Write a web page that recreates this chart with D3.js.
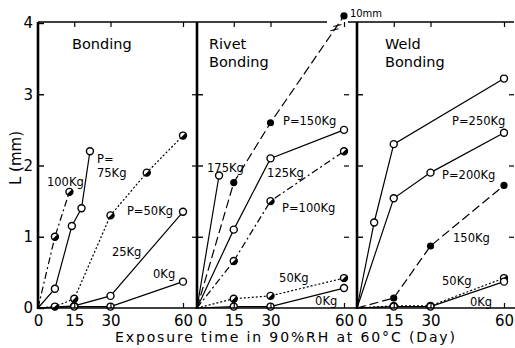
<!DOCTYPE html>
<html>
<head>
<meta charset="utf-8">
<script src="https://cdn.jsdelivr.net/npm/d3@7"></script>
<style>
body{margin:0;background:#fff;}
text{font-family:"DejaVu Sans",sans-serif;fill:#000;}
</style>
</head>
<body>
<script>
// days of exposure on x, crack length L (mm) on y
let xTicks = [0,15,30,60];
let yTicks = [0,1,2,3,4];

// Bonding
let b100 = [[0,0],[7,1.0],[13,1.63]];
let b75 = [[0,0],[7,0.27],[14,1.15],[18,1.4],[21.5,2.2]];
let b50 = [[0,0],[7,0.02],[15,0.13],[30,1.3],[45,1.9],[60,2.42]];
let b25 = [[0,0],[15,0.03],[30,0.17],[60,1.35]];
let b0 = [[0,0],[15,0.02],[30,0.02],[60,0.37]];
// Rivet bonding
let r175 = [[0,0],[9,1.86]];
let r150 = [[0,0],[15,1.76],[30,2.6],[60,4.1]];
let r125 = [[0,0],[15,1.1],[30,2.1],[60,2.5]];
let r100 = [[0,0],[15,0.66],[30,1.5],[60,2.2]];
let r50 = [[0,0],[15,0.13],[30,0.17],[60,0.42]];
let r0 = [[0,0],[15,0.02],[30,0.02],[60,0.28]];
// Weld bonding
let w250 = [[0,0],[7,1.2],[15,2.3],[60,3.22]];
let w200 = [[0,0],[15,1.54],[30,1.9],[60,2.46]];
let w150 = [[0,0],[15,0.14],[30,0.87],[60,1.72]];
let w50 = [[0,0],[15,0.03],[30,0.03],[60,0.42]];
let w0 = [[0,0],[15,0.02],[30,0.02],[60,0.37]];

let solid = null, dashdot = "7,3,2,3", dotted = "2,2", dashed = "9,4";

// label anchors are in data units (day, L)
let panels = [
  {x0:38, x1:183, edge:197, title:["Bonding"], tx:72,
   series:[
     {data:b100, dash:dashdot, mark:"half", label:["100Kg"], at:[3.7,1.71]},
     {data:b75, dash:solid, mark:"open", label:["P=","75Kg"], at:[24.4,2.04]},
     {data:b50, dash:dotted, mark:"half", label:["P=50Kg"], at:[36.8,1.31]},
     {data:b25, dash:solid, mark:"open", label:["25Kg"], at:[30.6,0.73]},
     {data:b0, dash:solid, mark:"open", label:["0Kg"], at:[47.6,0.42]}
   ]},
  {x0:197, x1:344, edge:349, title:["Rivet","Bonding"], tx:209,
   series:[
     {data:r175, dash:solid, mark:"open", label:["175Kg"], at:[4.1,1.91]},
     {data:r150, dash:dashed, mark:"fill", label:["P=150Kg"], at:[35.1,2.57]},
     {data:r125, dash:solid, mark:"open", label:["125Kg"], at:[28.6,1.84]},
     {data:r100, dash:dashdot, mark:"half", label:["P=100Kg"], at:[34.7,1.35]},
     {data:r50, dash:dotted, mark:"half", label:["50Kg"], at:[33.5,0.36]},
     {data:r0, dash:solid, mark:"open", label:["0Kg"], at:[48.2,0.04]}
   ]},
  {x0:357, x1:504, edge:514, title:["Weld","Bonding"], tx:385,
   series:[
     {data:w250, dash:solid, mark:"open", label:["P=250Kg"], at:[38.8,2.57]},
     {data:w200, dash:solid, mark:"open", label:["P=200Kg"], at:[34.7,1.81]},
     {data:w150, dash:dashed, mark:"fill", label:["150Kg"], at:[39.2,0.93]},
     {data:w50, dash:dotted, mark:"half", label:["50Kg"], at:[34.7,0.32]},
     {data:w0, dash:solid, mark:"open", label:["0Kg"], at:[46.1,0.03]}
   ]}
];

let width = 515, height = 348;
let svg = d3.select("body").append("svg").attr("width",width).attr("height",height);
let y = d3.scaleLinear().domain([0,4]).range([308,23]);
let topY = 22, bottomY = 308;

function marker(g, kind){
  if(kind=="fill"){
    g.append("circle").attr("r",3.6).attr("fill","#000");
    return;
  }
  g.append("circle").attr("r",3.5).attr("fill","#fff").attr("stroke","#000").attr("stroke-width",1.4);
  if(kind=="half"){
    g.append("path").attr("fill","#000")
      .attr("d",d3.arc()({innerRadius:0,outerRadius:3.5,startAngle:Math.PI*0.25,endAngle:Math.PI*1.25}));
  }
}

panels.forEach((p,i)=>{
  let x = d3.scaleLinear().domain([0,60]).range([p.x0,p.x1]);
  let line = d3.line().x(d=>x(d[0])).y(d=>y(d[1]));
  let g = svg.append("g");

  p.series.forEach(s=>{
    g.append("path").attr("d",line(s.data)).attr("fill","none")
      .attr("stroke","#000").attr("stroke-width",1.2)
      .attr("stroke-dasharray",s.dash);
  });
  p.series.forEach(s=>{
    s.data.slice(1).forEach(d=>{
      let m = g.append("g").attr("transform",`translate(${x(d[0])},${y(d[1])})`);
      marker(m,s.mark);
    });
    s.label.forEach((t,k)=>{
      g.append("text").attr("x",x(s.at[0])).attr("y",y(s.at[1])+k*14)
        .style("font-size","11.5px").text(t);
    });
  });

  // titles
  p.title.forEach((t,k)=>{
    g.append("text").attr("x",p.tx).attr("y",49+k*18).style("font-size","14.5px").text(t);
  });

  // bottom tick labels + ticks
  let ax = d3.axisBottom(x).tickValues(xTicks).tickSize(-5).tickPadding(10);
  let gb = svg.append("g").attr("transform",`translate(0,${bottomY})`).call(ax);
  gb.select(".domain").remove();
  gb.selectAll("line").attr("stroke-width",1.2);
  gb.selectAll("text").style("font-size","15px").style("font-family","DejaVu Sans")
    .attr("dx",d=>(d==0&&i>0)?5:0).attr("dy","0.55em");

  // top ticks
  let gt = svg.append("g").attr("transform",`translate(0,${topY})`)
    .call(d3.axisTop(x).tickValues([15,30,60]).tickSize(-5).tickFormat(""));
  gt.select(".domain").remove();
  gt.selectAll("line").attr("stroke-width",1.2);

  // left axis
  let al = d3.axisLeft(y).tickValues(i==0?yTicks:[1,2,3]).tickSize(-6).tickPadding(5)
    .tickFormat(i==0?d3.format("d"):"");
  let gl = svg.append("g").attr("transform",`translate(${p.x0},0)`).call(al);
  gl.select(".domain").remove();
  gl.selectAll("line").attr("stroke-width",1.4);
  gl.selectAll("text").style("font-size","15px").style("font-family","DejaVu Sans");
  svg.append("line").attr("x1",p.x0).attr("x2",p.x0).attr("y1",topY).attr("y2",bottomY+1)
    .attr("stroke","#000").attr("stroke-width",2.6);

  // right ticks
  let gr = svg.append("g").attr("transform",`translate(${p.edge},0)`)
    .call(d3.axisRight(y).tickValues([1,2,3]).tickSize(-5).tickFormat(""));
  gr.select(".domain").remove();
  gr.selectAll("line").attr("stroke-width",1.2);
});

// frame: bottom and top line (top broken where the 150Kg line passes)
svg.append("line").attr("x1",38).attr("x2",515).attr("y1",bottomY).attr("y2",bottomY)
  .attr("stroke","#000").attr("stroke-width",1.6);
svg.append("line").attr("x1",38).attr("x2",327).attr("y1",topY).attr("y2",topY)
  .attr("stroke","#000").attr("stroke-width",1.5);
svg.append("line").attr("x1",348).attr("x2",514).attr("y1",topY).attr("y2",topY)
  .attr("stroke","#000").attr("stroke-width",1.5);

// break marks and 10mm note on the rivet 150Kg line
let xr = d3.scaleLinear().domain([0,60]).range([panels[1].x0,panels[1].x1]);
let pa = [xr(30),y(2.6)], pb = [xr(60),y(4.1)];
[0.87,0.91].forEach(t=>{
  let cx = pa[0]+(pb[0]-pa[0])*t, cy = pa[1]+(pb[1]-pa[1])*t;
  svg.append("line").attr("x1",cx-4).attr("y1",cy+1).attr("x2",cx+4).attr("y2",cy-1)
    .attr("stroke","#000").attr("stroke-width",1.2);
});
svg.append("text").attr("x",xr(62.4)).attr("y",y(4.08)).style("font-size","10px").text("10mm");

// axis titles
svg.append("text").attr("transform","translate(21,158) rotate(-90)")
  .attr("text-anchor","middle").style("font-size","15px").text("L (mm)");
svg.append("text").attr("x",285).attr("y",342).attr("text-anchor","middle")
  .attr("textLength",340).attr("lengthAdjust","spacing")
  .style("font-size","14px").text("Exposure time in 90%RH at 60°C (Day)");
</script>
</body>
</html>
